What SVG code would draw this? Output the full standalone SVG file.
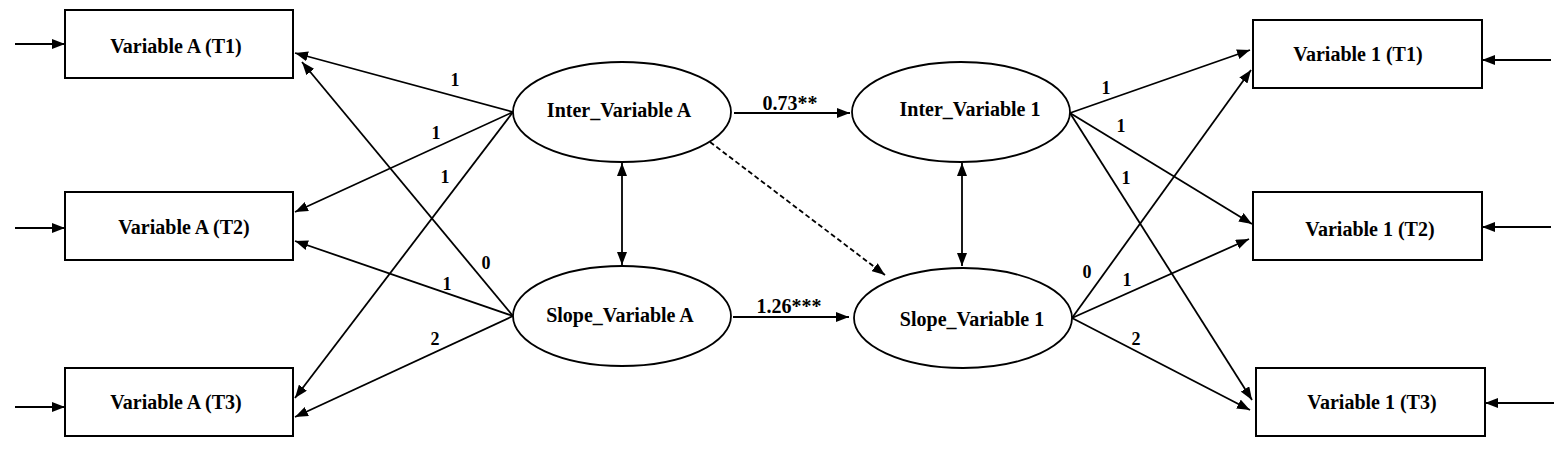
<svg xmlns="http://www.w3.org/2000/svg" width="1567" height="449" viewBox="0 0 1567 449">
<style>
.box{fill:#fff;stroke:#000;stroke-width:2}
.ell{fill:#fff;stroke:#000;stroke-width:1.8}
text{font-family:"Liberation Serif",serif;font-weight:700;fill:#000;text-anchor:middle}
.t{font-size:20px}
.lbl{font-size:18px}
.c{stroke:#000;stroke-width:1.8;fill:none;marker-end:url(#ah)}
.d{stroke:#000;stroke-width:1.8;fill:none;marker-end:url(#ah);marker-start:url(#ah)}
.dash{stroke-dasharray:5,3}
</style>
<defs>
<marker id="ah" markerUnits="userSpaceOnUse" markerWidth="14" markerHeight="10" refX="13" refY="5" orient="auto-start-reverse">
<path d="M0,0 L13,5 L0,10 z" fill="#000"/>
</marker>
</defs>
<g id="connectors">
<line class="c" x1="15" y1="44" x2="65" y2="44"/>
<line class="c" x1="15" y1="228" x2="65" y2="228"/>
<line class="c" x1="15" y1="407" x2="65" y2="407"/>
<line class="c" x1="1551" y1="60" x2="1482" y2="60"/>
<line class="c" x1="1551" y1="227" x2="1482" y2="227"/>
<line class="c" x1="1554" y1="403" x2="1485" y2="403"/>
<line class="c" x1="513" y1="112" x2="295" y2="53"/>
<line class="c" x1="513" y1="112" x2="295" y2="212"/>
<line class="c" x1="513" y1="112" x2="295" y2="398"/>
<line class="c" x1="513" y1="316" x2="302" y2="62"/>
<line class="c" x1="513" y1="316" x2="295" y2="241"/>
<line class="c" x1="513" y1="316" x2="295" y2="417"/>
<line class="c" x1="1070" y1="113" x2="1250" y2="50"/>
<line class="c" x1="1070" y1="113" x2="1252" y2="224"/>
<line class="c" x1="1070" y1="113" x2="1252" y2="400"/>
<line class="c" x1="1072" y1="318" x2="1251" y2="70"/>
<line class="c" x1="1072" y1="318" x2="1249" y2="239"/>
<line class="c" x1="1072" y1="318" x2="1250" y2="410"/>
<line class="c" x1="734" y1="113" x2="850" y2="113"/>
<line class="c" x1="733" y1="317" x2="849" y2="317"/>
<line class="d" x1="622" y1="163" x2="622" y2="265"/>
<line class="d" x1="962" y1="163" x2="962" y2="266"/>
<line class="c dash" x1="710" y1="142" x2="885" y2="275"/>
<text class="lbl" x="455" y="86">1</text>
<text class="lbl" x="436" y="139">1</text>
<text class="lbl" x="445" y="183">1</text>
<text class="lbl" x="486" y="269">0</text>
<text class="lbl" x="447" y="290">1</text>
<text class="lbl" x="435" y="345">2</text>
<text class="lbl" x="1106" y="94">1</text>
<text class="lbl" x="1121" y="132">1</text>
<text class="lbl" x="1126" y="184">1</text>
<text class="lbl" x="1087" y="278">0</text>
<text class="lbl" x="1127" y="286">1</text>
<text class="lbl" x="1136" y="345">2</text>
<text class="t" x="790" y="110">0.73**</text>
<text class="t" x="789" y="313">1.26***</text>
</g>
<g id="varA_T1"><rect class="box" x="65" y="10" width="228" height="68"/><text class="t" x="176" y="53">Variable A (T1)</text></g>
<g id="varA_T2"><rect class="box" x="65" y="192" width="228" height="68"/><text class="t" x="184" y="234">Variable A (T2)</text></g>
<g id="varA_T3"><rect class="box" x="65" y="368" width="228" height="68"/><text class="t" x="176" y="409">Variable A (T3)</text></g>
<g id="var1_T1"><rect class="box" x="1253" y="20" width="229" height="68"/><text class="t" x="1358" y="61">Variable 1 (T1)</text></g>
<g id="var1_T2"><rect class="box" x="1253" y="192" width="229" height="68"/><text class="t" x="1370" y="236">Variable 1 (T2)</text></g>
<g id="var1_T3"><rect class="box" x="1256" y="368" width="229" height="68"/><text class="t" x="1372" y="409">Variable 1 (T3)</text></g>
<g id="inter_A"><ellipse class="ell" cx="622" cy="112" rx="109" ry="50"/><text class="t" x="619" y="117">Inter_Variable A</text></g>
<g id="slope_A"><ellipse class="ell" cx="622" cy="316" rx="109" ry="50"/><text class="t" x="620" y="322">Slope_Variable A</text></g>
<g id="inter_1"><ellipse class="ell" cx="961" cy="112" rx="109" ry="50"/><text class="t" x="970" y="116">Inter_Variable 1</text></g>
<g id="slope_1"><ellipse class="ell" cx="963" cy="318" rx="109" ry="50"/><text class="t" x="972" y="326">Slope_Variable 1</text></g>
</svg>
